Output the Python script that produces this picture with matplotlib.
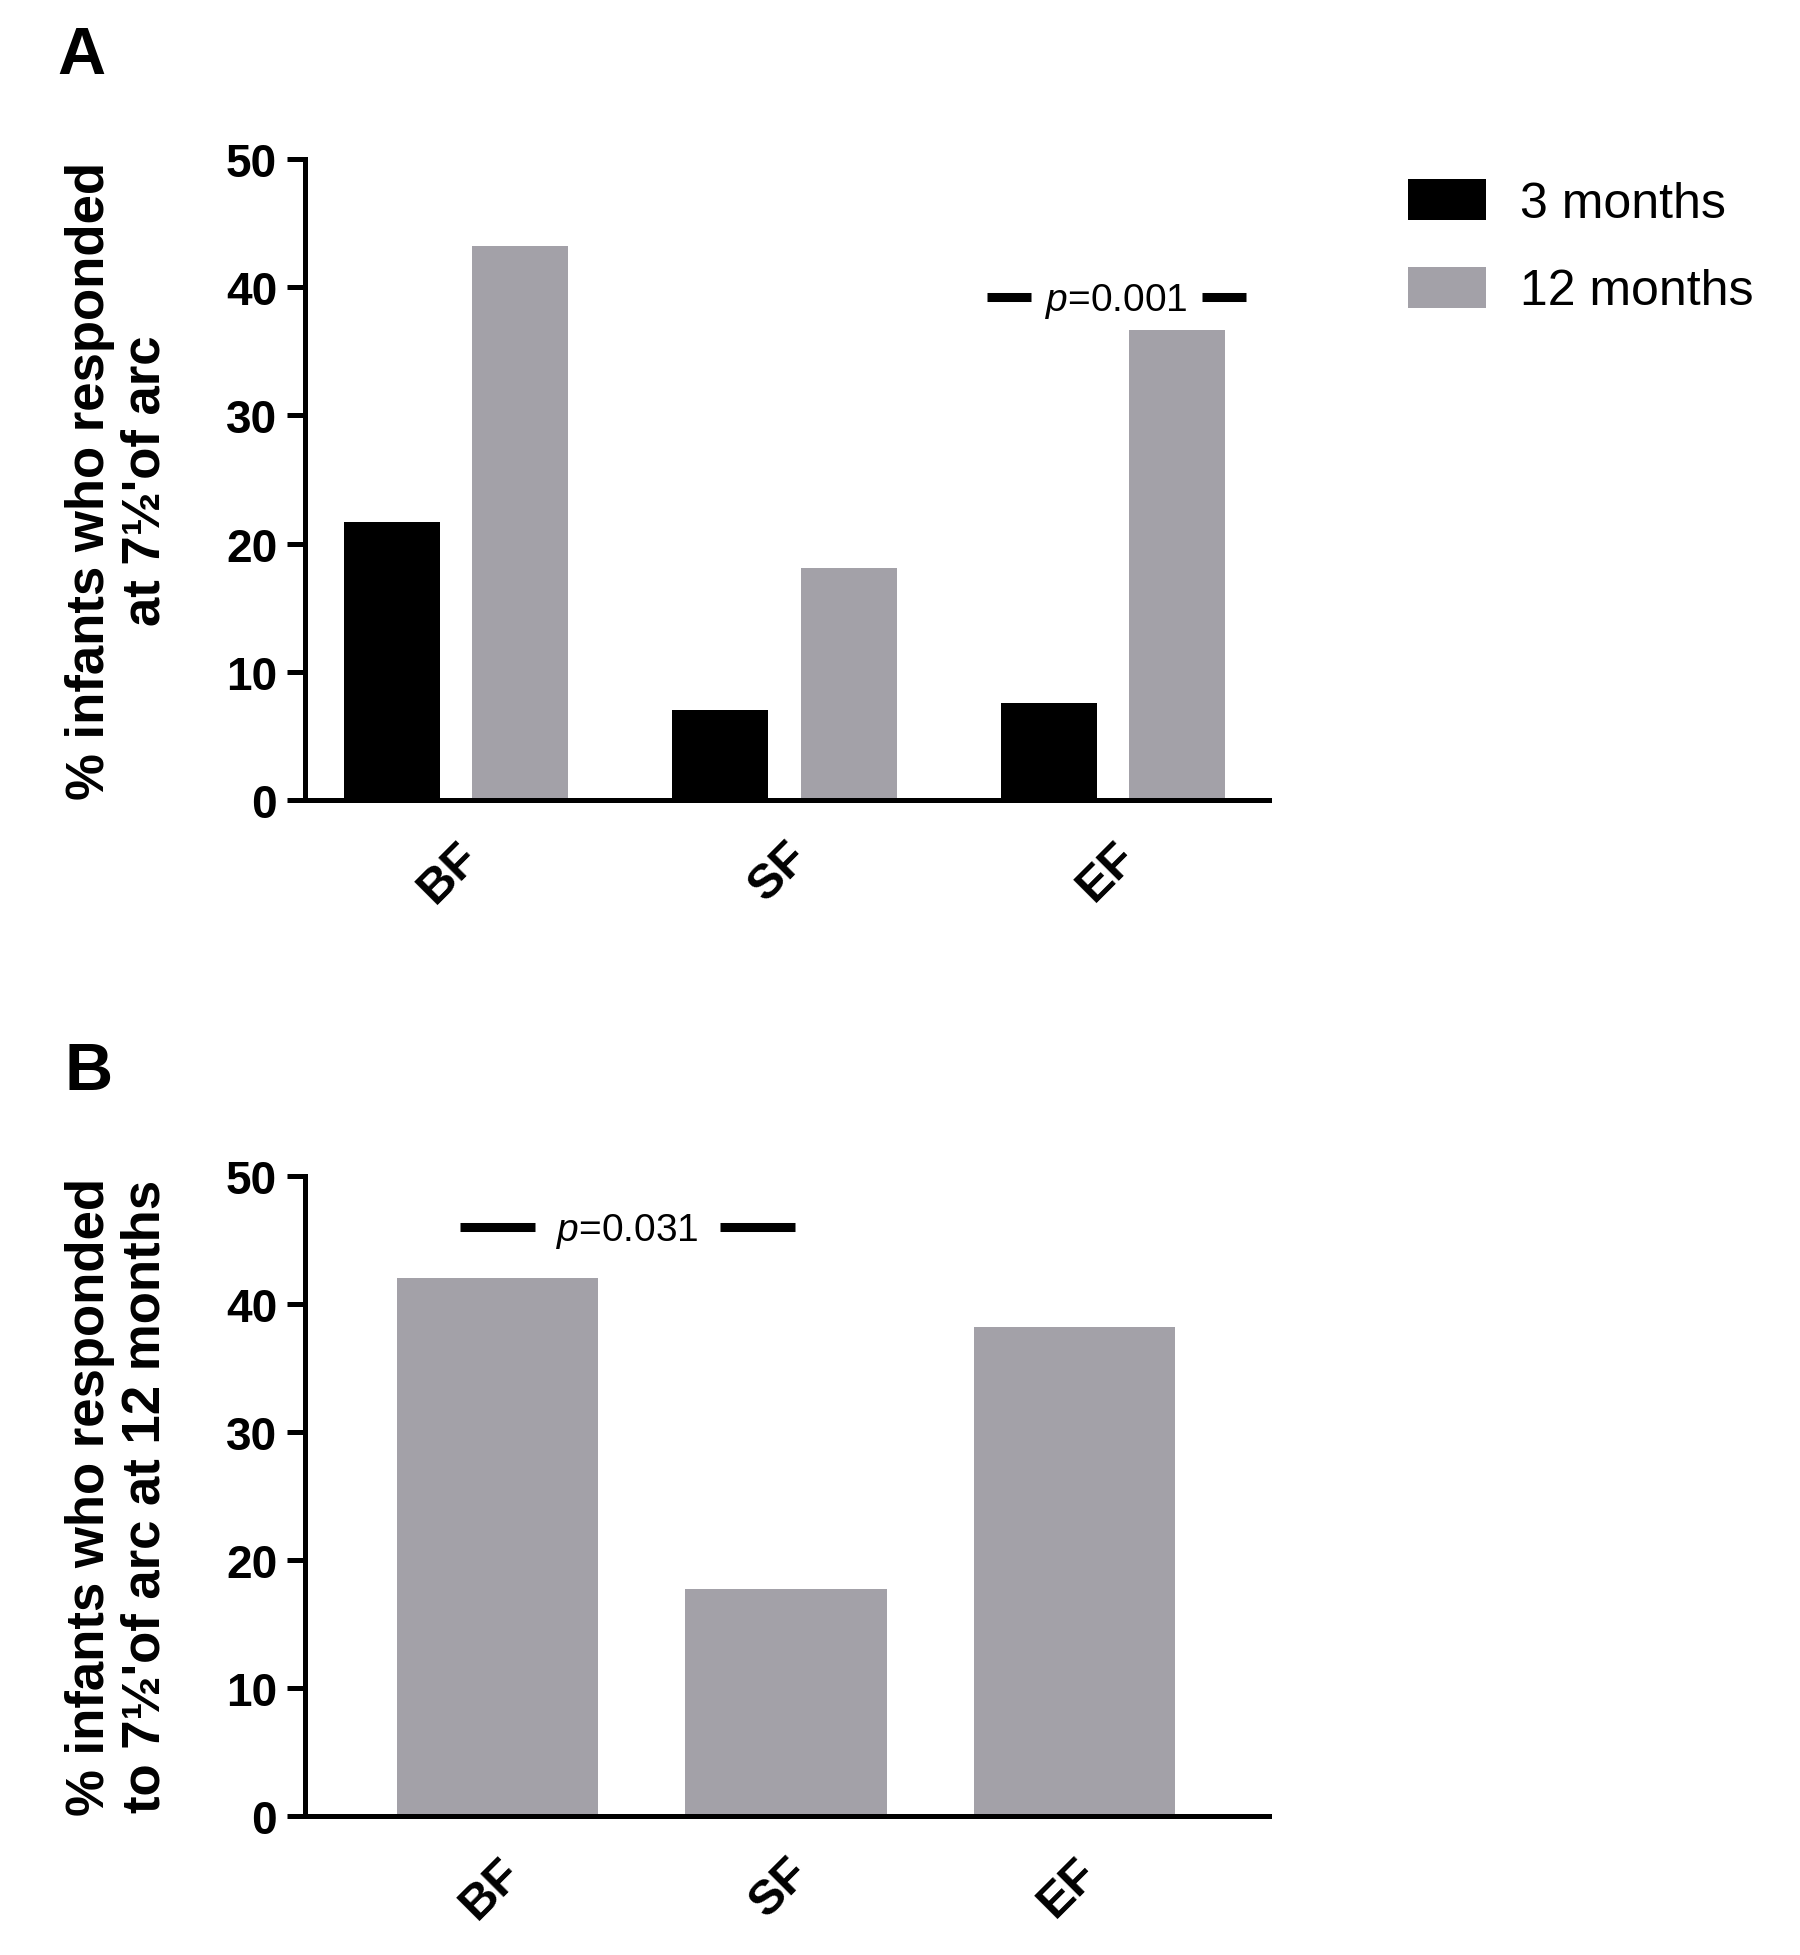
import matplotlib
matplotlib.use("Agg")
import matplotlib.pyplot as plt
import matplotlib.transforms as mtransforms
import numpy as np

plt.rcParams["font.family"] = ["Liberation Sans", "DejaVu Sans"]
plt.rcParams["mathtext.fontset"] = "custom"
plt.rcParams["mathtext.rm"] = "Liberation Sans"
plt.rcParams["mathtext.it"] = "Liberation Sans:italic"

# data
categories = ["BF", "SF", "EF"]
series = ["3 months", "12 months"]
resp_3m = [21.7, 7.0, 7.6]
resp_12m = [43.2, 18.1, 36.7]
resp_12m_b = [42.0, 17.7, 38.2]
yticks = [0, 10, 20, 30, 40, 50]

# significance brackets: (centre, half span, gap half, y, label)
sig_a = [(2.01, 0.394, 0.26, 39.2, "0.001")]
sig_b = [(0.451, 0.579, 0.319, 46.0, "0.031")]

label_a = "% infants who responded\nat 7\u00bd'of arc"
label_b = "% infants who responded\nto 7\u00bd'of arc at 12 months"

black = "#000000"
grey = "#a3a1a8"
lw = 3.6

fig = plt.figure(figsize=(18, 19.56), dpi=100)
ax_a = fig.add_axes([0.1694, 0.5905, 0.5356, 0.3277])
ax_b = fig.add_axes([0.1694, 0.0711, 0.5356, 0.3272])


def style(ax, xlim, ylabel):
    ax.set_ylim(0, 50)
    ax.set_xlim(*xlim)
    ax.set_yticks(yticks)
    ax.set_xticks(np.arange(len(categories)))
    ax.set_xticklabels(categories, rotation=45, ha="right", va="top",
                       rotation_mode="anchor", fontsize=35, fontweight="bold")
    shift = mtransforms.ScaledTranslation(-7 / 72, 0, fig.dpi_scale_trans)
    for t in ax.get_xticklabels():
        t.set_transform(t.get_transform() + shift)
    for t in ax.get_yticklabels():
        t.set_fontsize(33)
        t.set_fontweight("bold")
    for s in ["top", "right"]:
        ax.spines[s].set_visible(False)
    for s in ["left", "bottom"]:
        ax.spines[s].set_linewidth(lw)
    ax.tick_params(axis="y", length=13, width=lw, pad=7)
    ax.tick_params(axis="x", length=0, pad=24)
    ax.set_ylabel(ylabel, fontsize=38, fontweight="bold", linespacing=1.15)
    ax.yaxis.set_label_coords(-0.139, 0.5)


def brackets(ax, specs):
    for c, half, gap, y, txt in specs:
        ax.plot([c - half, c - gap], [y, y], color="black", lw=6.5,
                solid_capstyle="butt")
        ax.plot([c + gap, c + half], [y, y], color="black", lw=6.5,
                solid_capstyle="butt")
        ax.annotate("$p$=" + txt, (c, y), xytext=(0, -9),
                    textcoords="offset points", ha="center", va="baseline",
                    fontsize=28)


x = np.arange(len(categories))
w = 0.292
off = 0.196
ax_a.bar(x - off, resp_3m, w, color=black, label=series[0])
ax_a.bar(x + off, resp_12m, w, color=grey, label=series[1])
style(ax_a, (-0.46, 2.475), label_a)
brackets(ax_a, sig_a)

ax_b.bar(x, resp_12m_b, 0.697, color=grey)
style(ax_b, (-0.667, 2.674), label_b)
brackets(ax_b, sig_b)

handles, labels = ax_a.get_legend_handles_labels()
fig.legend(handles, labels, loc="upper left",
           bbox_to_anchor=(1408 / 1800, 1 - 180 / 1956),
           frameon=False, fontsize=36, borderpad=0, borderaxespad=0,
           handlelength=1.55, handleheight=0.88, handletextpad=0.68,
           labelspacing=0.8)

fig.text(0.032, 0.9622, "A", fontsize=48, fontweight="bold")
fig.text(0.036, 0.4427, "B", fontsize=48, fontweight="bold")

fig.savefig("out.png", dpi=100, facecolor="white")
